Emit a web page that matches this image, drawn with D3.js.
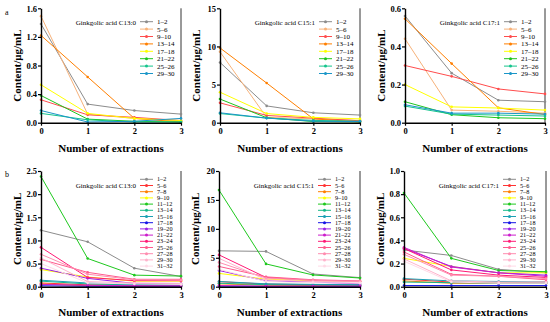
<!DOCTYPE html>
<html>
<head>
<meta charset="utf-8">
<script src="https://cdn.jsdelivr.net/npm/d3@7/dist/d3.min.js"></script>
<style>
  body{margin:0;background:#fff;}
  svg{display:block;}
  text{font-family:"Liberation Serif","Times New Roman",serif;fill:#000;}
</style>
</head>
<body>
<div id="chart"></div>
<script>
// extraction number on x
var extractions = [0,1,2,3];

// row a: 8 sample groups
var groupsA = ["1–2","5–6","9–10","13–14","17–18","21–22","25–26","29–30"];
var colorsA = ["#8c8c8c","#f7b27a","#ff4d4d","#ff7f00","#ffff00","#1ec41e","#14c48c","#1a96c8"];
var c13_0_a = [
  [1.38,0.26,0.17,0.12],
  [1.49,0.12,0.06,0.02],
  [0.32,0.11,0.075,0.03],
  [1.22,0.64,0.06,0.01],
  [0.53,0.13,0.06,0.03],
  [0.38,0.05,0.02,0.01],
  [0.13,0.04,0.01,0.01],
  [0.17,0.01,0.02,0.06]
];
var c15_1_a = [
  [7.9,2.2,1.3,1.0],
  [9.3,0.7,0.5,0.3],
  [2.6,0.95,0.6,0.25],
  [9.8,5.2,0.5,0.1],
  [4.0,1.2,0.7,0.5],
  [3.1,0.65,0.15,0.1],
  [1.2,0.6,0.3,0.2],
  [1.3,0.6,0.2,0.15]
];
var c17_1_a = [
  [0.56,0.26,0.118,0.11],
  [0.44,0.066,0.06,0.05],
  [0.30,0.243,0.177,0.151],
  [0.545,0.31,0.078,0.043],
  [0.20,0.083,0.077,0.066],
  [0.11,0.042,0.026,0.021],
  [0.087,0.045,0.04,0.035],
  [0.094,0.05,0.05,0.045]
];

// row b: 15 sample groups
var groupsB = ["1–2","5–6","7–8","9–10","11–12","13–14","15–16","17–18","19–20","21–22","23–24","25–26","27–28","29–30","31–32"];
var colorsB = ["#8c8c8c","#ff3333","#ff7f00","#ffff00","#1ec81e","#14b888","#1aa0b4","#1414e6","#9a20e6","#cc1ccc","#ff1a75","#ff5a8c","#ff8caf","#ffb3cc","#ffd9e6"];
var c13_0_b = [
  [1.22,0.97,0.40,0.22],
  [0.08,0.04,0.03,0.03],
  [0.06,0.02,0.01,0.01],
  [0.37,0.21,0.12,0.12],
  [2.38,0.61,0.25,0.23],
  [0.12,0.06,0.04,0.03],
  [0.14,0.08,0.05,0.04],
  [0.02,0.01,0.01,0.01],
  [0.40,0.18,0.07,0.07],
  [0.05,0.03,0.02,0.02],
  [0.85,0.20,0.13,0.13],
  [0.59,0.31,0.16,0.16],
  [0.70,0.27,0.15,0.14],
  [0.62,0.11,0.08,0.07],
  [0.50,0.08,0.06,0.05]
];
var c15_1_b = [
  [6.2,6.1,2.2,1.57],
  [0.87,0.45,0.35,0.3],
  [0.5,0.25,0.2,0.2],
  [2.3,1.3,1.0,0.9],
  [16.7,3.94,2.03,1.5],
  [0.6,0.35,0.3,0.25],
  [0.9,0.5,0.4,0.35],
  [0.1,0.05,0.05,0.05],
  [2.8,1.0,0.8,0.5],
  [0.2,0.1,0.1,0.1],
  [5.5,1.6,1.1,0.9],
  [3.5,1.7,1.2,1.0],
  [4.2,1.5,1.1,0.95],
  [4.9,1.2,0.9,0.8],
  [3.0,0.9,0.7,0.6]
];
var c17_1_b = [
  [0.317,0.27,0.15,0.12],
  [0.065,0.04,0.03,0.04],
  [0.05,0.03,0.03,0.03],
  [0.245,0.175,0.12,0.12],
  [0.81,0.245,0.14,0.13],
  [0.04,0.035,0.03,0.03],
  [0.07,0.05,0.045,0.04],
  [0.01,0.01,0.01,0.01],
  [0.33,0.175,0.12,0.10],
  [0.34,0.17,0.12,0.09],
  [0.33,0.145,0.10,0.08],
  [0.30,0.107,0.09,0.06],
  [0.28,0.10,0.09,0.07],
  [0.24,0.05,0.04,0.04],
  [0.22,0.04,0.03,0.03]
];

var ticksC13a = [0,0.4,0.8,1.2,1.6];
var ticksC15a = [0,5,10,15];
var ticksC17a = [0,0.2,0.4,0.6];
var ticksC13b = [0,0.5,1,1.5,2,2.5];
var ticksC15b = [0,5,10,15,20];
var ticksC17b = [0,0.2,0.4,0.6,0.8,1];

var width = 550, height = 322;
var svg = d3.select("#chart").append("svg")
    .attr("width",width)
    .attr("height",height);

function drawPanel(cfg){
  var g = svg.append("g");
  var x = d3.scaleLinear().domain([0,3]).range([cfg.left,cfg.right]);
  var y = d3.scaleLinear().domain([0,cfg.ymax]).range([cfg.bottom,cfg.top]);

  var xAxis = d3.axisBottom(x).tickValues(extractions).tickSize(3).tickSizeOuter(0)
      .tickPadding(2).tickFormat(d3.format("d"));
  var yAxis = d3.axisLeft(y).tickValues(cfg.ticks).tickSize(3).tickSizeOuter(0)
      .tickPadding(1).tickFormat(d3.format(cfg.fmt));

  // right frame line
  g.append("line")
    .attr("x1",cfg.right).attr("x2",cfg.right)
    .attr("y1",cfg.top).attr("y2",cfg.bottom)
    .attr("stroke","#000").attr("stroke-width",0.8);

  var series = cfg.data.map(function(v,i){ return {name:cfg.groups[i],color:cfg.colors[i],values:v}; });
  var line = d3.line().x(function(d,i){return x(extractions[i]);}).y(function(d){return y(d);});

  var sg = g.selectAll(".series").data(series).enter().append("g").attr("class","series");
  sg.append("path")
    .attr("d",function(d){return line(d.values);})
    .attr("fill","none")
    .attr("stroke",function(d){return d.color;})
    .attr("stroke-width",1);
  sg.selectAll("circle").data(function(d){return d.values.map(function(v,i){return {v:v,i:i,c:d.color};});})
    .enter().append("circle")
    .attr("cx",function(d){return x(extractions[d.i]);})
    .attr("cy",function(d){return y(d.v);})
    .attr("r",1.3)
    .attr("fill",function(d){return d.c;});

  var gx = g.append("g")
    .attr("transform","translate(0,"+cfg.bottom+")")
    .call(xAxis);
  var gy = g.append("g")
    .attr("transform","translate("+cfg.left+",0)")
    .call(yAxis);
  [gx,gy].forEach(function(a){
    a.select(".domain").attr("stroke","#000").attr("stroke-width",1.4);
    a.selectAll(".tick line").attr("stroke","#000").attr("stroke-width",1.2);
    a.selectAll(".tick text")
      .attr("font-family","Liberation Serif")
      .attr("font-weight","bold")
      .attr("font-size",8.5)
      .attr("fill","#000");
  });

  g.append("text")
    .attr("x",(cfg.left+cfg.right)/2)
    .attr("y",cfg.bottom+29)
    .attr("text-anchor","middle")
    .attr("font-weight","bold")
    .attr("font-size",11)
    .text("Number of extractions");
  g.append("text")
    .attr("transform","translate("+(cfg.left-20)+","+((cfg.top+cfg.bottom)/2)+") rotate(-90)")
    .attr("text-anchor","middle")
    .attr("font-weight","bold")
    .attr("font-size",11)
    .text("Content/μg/mL");

  // legend
  g.append("text")
    .attr("x",cfg.left+95)
    .attr("y",cfg.top+17)
    .attr("text-anchor","end")
    .attr("font-size",7)
    .text(cfg.title);
  var lg = g.selectAll(".leg").data(series).enter().append("g")
    .attr("transform",function(d,i){return "translate("+(cfg.left+99)+","+(cfg.top+cfg.legTop+i*cfg.legStep)+")";});
  lg.append("line").attr("x1",0).attr("x2",13).attr("y1",0).attr("y2",0)
    .attr("stroke",function(d){return d.color;}).attr("stroke-width",1);
  lg.append("circle").attr("cx",6.5).attr("cy",0).attr("r",1.5)
    .attr("fill",function(d){return d.color;});
  lg.append("text").attr("x",17).attr("y",0).attr("dy","0.35em")
    .attr("font-size",cfg.legFont)
    .text(function(d){return d.name;});
}

var rowA = {top:8.3,bottom:122.7,groups:groupsA,colors:colorsA,legTop:13.4,legStep:7.4,legFont:7};
var rowB = {top:171,bottom:286.7,groups:groupsB,colors:colorsB,legTop:8.3,legStep:6.2,legFont:6.2};

drawPanel(Object.assign({},rowA,{left:41,right:181,ymax:1.6,ticks:ticksC13a,fmt:".1f",data:c13_0_a,title:"Ginkgolic acid C13:0"}));
drawPanel(Object.assign({},rowA,{left:220,right:360,ymax:15,ticks:ticksC15a,fmt:"d",data:c15_1_a,title:"Ginkgolic acid C15:1"}));
drawPanel(Object.assign({},rowA,{left:405,right:545,ymax:0.6,ticks:ticksC17a,fmt:".1f",data:c17_1_a,title:"Ginkgolic acid C17:1"}));
drawPanel(Object.assign({},rowB,{left:41,right:181,ymax:2.5,ticks:ticksC13b,fmt:".1f",data:c13_0_b,title:"Ginkgolic acid C13:0"}));
drawPanel(Object.assign({},rowB,{left:219,right:360,ymax:20,ticks:ticksC15b,fmt:"d",data:c15_1_b,title:"Ginkgolic acid C15:1"}));
drawPanel(Object.assign({},rowB,{left:404,right:546,ymax:1,ticks:ticksC17b,fmt:".1f",data:c17_1_b,title:"Ginkgolic acid C17:1"}));

svg.append("text").attr("x",5).attr("y",15).attr("font-size",8).text("a");
svg.append("text").attr("x",5).attr("y",177).attr("font-size",8).text("b");
</script>
</body>
</html>
